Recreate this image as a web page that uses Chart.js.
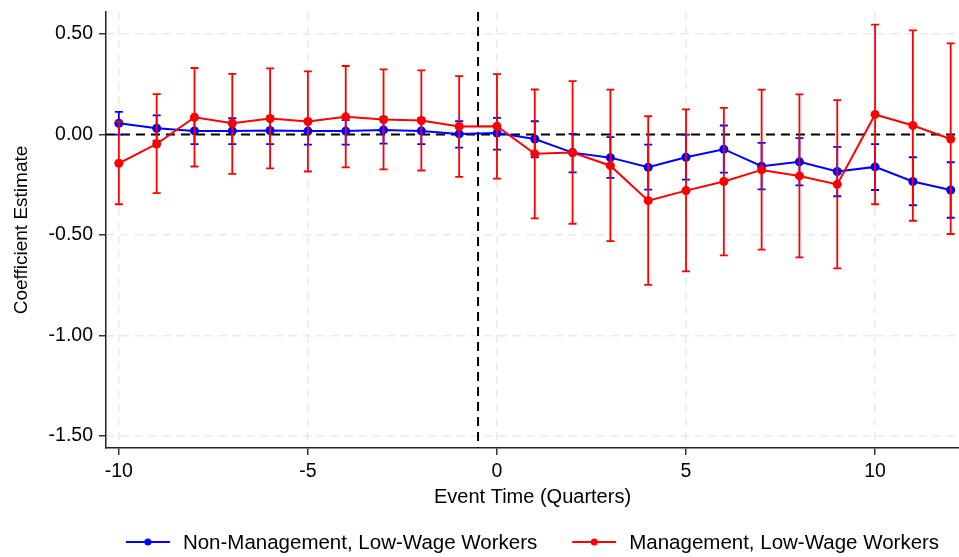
<!DOCTYPE html>
<html>
<head>
<meta charset="utf-8">
<script src="https://cdn.jsdelivr.net/npm/chart.js@4.4.1/dist/chart.umd.min.js"></script>
<style>
    html, body { margin: 0; padding: 0; background: #fff; }
    #wrap { width: 959px; height: 557px; }
</style>
</head>
<body>
<div id="wrap"><canvas id="eventChart" width="959" height="557"></canvas></div>
<script>
// Event-study estimates by quarter relative to the event
var quarters = [-10, -9, -8, -7, -6, -5, -4, -3, -2, -1, 0, 1, 2, 3, 4, 5, 6, 7, 8, 9, 10, 11, 12];

var nonMgmt   = [0.056, 0.031, 0.018, 0.018, 0.020, 0.017, 0.017, 0.023, 0.018, 0.003, 0.007, -0.022, -0.090, -0.115, -0.163, -0.113, -0.073, -0.158, -0.136, -0.184, -0.161, -0.234, -0.276];
var nonMgmtLo = [0.000, -0.030, -0.048, -0.048, -0.048, -0.050, -0.050, -0.045, -0.048, -0.065, -0.075, -0.113, -0.188, -0.216, -0.274, -0.224, -0.190, -0.273, -0.253, -0.307, -0.276, -0.352, -0.414];
var nonMgmtHi = [0.113, 0.095, 0.084, 0.081, 0.085, 0.070, 0.072, 0.085, 0.080, 0.066, 0.083, 0.066, 0.003, -0.013, -0.050, 0.000, 0.045, -0.042, -0.018, -0.061, -0.048, -0.113, -0.138];

var mgmt   = [-0.143, -0.047, 0.086, 0.056, 0.080, 0.065, 0.088, 0.075, 0.070, 0.040, 0.041, -0.096, -0.090, -0.155, -0.329, -0.279, -0.234, -0.176, -0.206, -0.248, 0.100, 0.045, -0.022];
var mgmtLo = [-0.347, -0.292, -0.159, -0.196, -0.168, -0.184, -0.163, -0.173, -0.179, -0.211, -0.219, -0.417, -0.444, -0.530, -0.748, -0.681, -0.601, -0.573, -0.611, -0.666, -0.347, -0.429, -0.495];
var mgmtHi = [0.065, 0.201, 0.331, 0.302, 0.329, 0.314, 0.341, 0.324, 0.319, 0.291, 0.301, 0.224, 0.266, 0.223, 0.091, 0.125, 0.133, 0.223, 0.200, 0.171, 0.547, 0.518, 0.454];

var xTicks = [-10, -5, 0, 5, 10];
var yTicks = [0.5, 0, -0.5, -1, -1.5];
var zeroLine = 0;
var eventLine = -0.5;

var FONT = 'Liberation Sans, Arial, Helvetica, sans-serif';

function points(ys) {
    return quarters.map(function (q, i) { return { x: q, y: ys[i] }; });
}

// confidence intervals, drawn just before each dataset's own line
var errorBars = {
    id: 'errorBars',
    beforeDatasetDraw: function (chart, args) {
        var ds = chart.data.datasets[args.index];
        if (!ds.lo) return;
        var ctx = chart.ctx, xs = chart.scales.x, ys = chart.scales.y;
        ctx.save();
        ctx.beginPath();
        ctx.rect(chart.chartArea.left, chart.chartArea.top, chart.chartArea.width, chart.chartArea.height);
        ctx.clip();
        ctx.strokeStyle = ds.borderColor;
        ctx.lineWidth = 1.8;
        quarters.forEach(function (q, i) {
            var px = xs.getPixelForValue(q);
            var top = ys.getPixelForValue(ds.hi[i]);
            var bot = ys.getPixelForValue(ds.lo[i]);
            ctx.beginPath();
            ctx.moveTo(px, top); ctx.lineTo(px, bot);
            ctx.moveTo(px - 4, top); ctx.lineTo(px + 4, top);
            ctx.moveTo(px - 4, bot); ctx.lineTo(px + 4, bot);
            ctx.stroke();
        });
        ctx.restore();
    }
};

// dashed reference lines at zero and at the event date
var refLines = {
    id: 'refLines',
    beforeDatasetsDraw: function (chart) {
        var ctx = chart.ctx, a = chart.chartArea;
        var y0 = chart.scales.y.getPixelForValue(zeroLine);
        var xe = chart.scales.x.getPixelForValue(eventLine);
        ctx.save();
        ctx.strokeStyle = '#000';
        ctx.lineWidth = 2;
        ctx.setLineDash([9, 6]);
        ctx.beginPath();
        ctx.moveTo(a.left, y0); ctx.lineTo(a.right, y0);
        ctx.moveTo(xe, a.top); ctx.lineTo(xe, a.bottom);
        ctx.stroke();
        ctx.restore();
    }
};

// legend row under the axis title: line with a dot, then the label
var lineLegend = {
    id: 'lineLegend',
    afterDraw: function (chart) {
        var ctx = chart.ctx, a = chart.chartArea;
        var sets = chart.data.datasets;
        ctx.save();
        ctx.font = '20.5px ' + FONT;
        ctx.textBaseline = 'middle';
        var sym = 44, gap = 13, between = 35;
        var total = 0;
        sets.forEach(function (ds, i) {
            total += sym + gap + ctx.measureText(ds.label).width;
            if (i < sets.length - 1) total += between;
        });
        var x = (a.left + a.right) / 2 - total / 2;
        var y = 542;
        sets.forEach(function (ds) {
            ctx.strokeStyle = ds.borderColor;
            ctx.fillStyle = ds.borderColor;
            ctx.lineWidth = 2;
            ctx.beginPath();
            ctx.moveTo(x, y); ctx.lineTo(x + sym, y);
            ctx.stroke();
            ctx.beginPath();
            ctx.arc(x + sym / 2, y, 3.5, 0, Math.PI * 2);
            ctx.fill();
            x += sym + gap;
            ctx.fillStyle = '#000';
            ctx.fillText(ds.label, x, y + 1);
            x += ctx.measureText(ds.label).width + between;
        });
        ctx.restore();
    }
};

var ctx = document.getElementById('eventChart').getContext('2d');
var eventChart = new Chart(ctx, {
    type: 'line',
    data: {
        datasets: [{
            label: 'Non-Management, Low-Wage Workers',
            data: points(nonMgmt),
            lo: nonMgmtLo,
            hi: nonMgmtHi,
            borderColor: '#0000ff',
            backgroundColor: '#0000ff',
            borderWidth: 2,
            pointRadius: 4.5,
            pointBorderWidth: 0,
            order: 1
        }, {
            label: 'Management, Low-Wage Workers',
            data: points(mgmt),
            lo: mgmtLo,
            hi: mgmtHi,
            borderColor: '#ff0000',
            backgroundColor: '#ff0000',
            borderWidth: 2,
            pointRadius: 4.5,
            pointBorderWidth: 0,
            order: 0
        }]
    },
    options: {
        responsive: false,
        animation: false,
        layout: {
            autoPadding: false,
            padding: { top: 12, right: 0, left: 0, bottom: 40 }
        },
        plugins: {
            legend: { display: false },
            tooltip: { enabled: false }
        },
        scales: {
            x: {
                type: 'linear',
                min: -10.34,
                max: 12.22,
                afterBuildTicks: function (scale) {
                    scale.ticks = xTicks.map(function (v) { return { value: v }; });
                },
                afterFit: function (scale) {
                    scale.height = 69;
                    scale.paddingLeft = 0;
                    scale.paddingRight = 0;
                },
                grid: {
                    color: '#e9e9e9',
                    lineWidth: 1.5,
                    tickLength: 7,
                    tickColor: '#333',
                    tickWidth: 1.5,
                    tickBorderDash: []
                },
                border: { color: '#222', width: 1.5, dash: [8, 6] },
                ticks: {
                    padding: 5,
                    color: '#000',
                    maxRotation: 0,
                    font: { family: FONT, size: 19.5 },
                    callback: function (v) { return String(v); }
                },
                title: {
                    display: true,
                    text: 'Event Time (Quarters)',
                    color: '#000',
                    font: { family: FONT, size: 20 },
                    padding: { top: 0, bottom: 8 }
                }
            },
            y: {
                min: -1.5598,
                max: 0.6097,
                afterBuildTicks: function (scale) {
                    scale.ticks = yTicks.map(function (v) { return { value: v }; });
                },
                afterFit: function (scale) {
                    scale.width = 106;
                    scale.paddingTop = 0;
                    scale.paddingBottom = 0;
                },
                grid: {
                    color: '#e9e9e9',
                    lineWidth: 1.5,
                    tickLength: 7,
                    tickColor: '#333',
                    tickWidth: 1.5,
                    tickBorderDash: []
                },
                border: { color: '#222', width: 1.5, dash: [8, 6] },
                ticks: {
                    padding: 6,
                    color: '#000',
                    font: { family: FONT, size: 19.5 },
                    callback: function (v) { return Number(v).toFixed(2); }
                },
                title: {
                    display: true,
                    text: 'Coefficient Estimate',
                    color: '#000',
                    font: { family: FONT, size: 19 },
                    padding: { top: 10, bottom: 0 }
                }
            }
        }
    },
    plugins: [refLines, errorBars, lineLegend]
});
</script>
</body>
</html>
